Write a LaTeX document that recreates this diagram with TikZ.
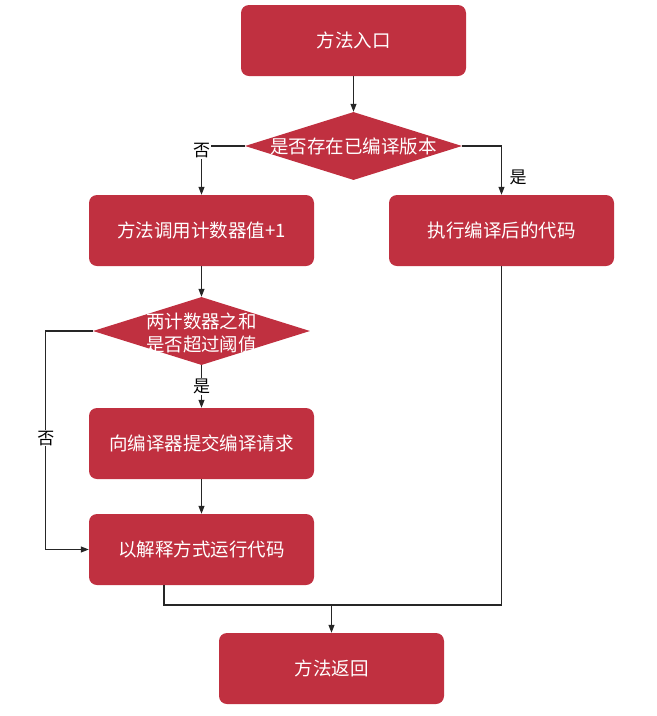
\documentclass[tikz,border=0pt]{standalone}
\usepackage{fontspec}
\setmainfont{Noto Sans CJK SC}
\usetikzlibrary{shapes.geometric,arrows.meta}
\definecolor{boxred}{RGB}{192,48,64}
\tikzset{
  box/.style={draw=none,fill=boxred,rounded corners=8pt,minimum width=225pt,minimum height=71pt,text=white,font=\fontsize{18.5}{22}\selectfont,inner sep=0pt},
  dec/.style={diamond,draw=none,fill=boxred,minimum width=217pt,minimum height=68pt,aspect=3.2,inner sep=0pt},
  dtext/.style={text=white,font=\fontsize{18.5}{23}\selectfont,align=center,inner sep=0pt},
  conn/.style={line width=1.1pt,draw=black!85},
  arr/.style={conn,-{Triangle[length=8pt,width=6pt]}},
  lab/.style={fill=white,inner sep=1pt,font=\fontsize{17}{20}\selectfont}
}
\begin{document}
\begin{tikzpicture}[x=1pt,y=-1pt]
\useasboundingbox (0,0) rectangle (657,716);
\node[box] (entry) at (353.5,40.5) {方法入口};
\node[dec] (d1) at (353.5,146) {};
\node[dtext] (d1t) at (353.5,146) {是否存在已编译版本};
\node[box] (cnt) at (201.5,230.5) {方法调用计数器值+1};
\node[box] (exec) at (501.5,230.5) {执行编译后的代码};
\node[dec] (d2) at (201.5,331) {};
\node[dtext] (d2t) at (201.5,333) {两计数器之和\\是否超过阈值};
\node[box] (sub) at (201.5,443.5) {向编译器提交编译请求};
\node[box] (interp) at (201.5,549.5) {以解释方式运行代码};
\node[box] (ret) at (331.5,668.5) {方法返回};
\coordinate (join) at (331.5,605);
\coordinate (jl) at (164,605);
\coordinate (jr) at (501.5,605);

\draw[arr] (entry.south) -- (d1.north);
\draw[arr] (d1.west) -| node[lab,pos=0.55] (no1) {否} (cnt.north);
\draw[arr] (d1.east) -| (exec.north);
\node[font=\fontsize{17}{20}\selectfont,inner sep=0pt] (yes1) at (518,177) {是};
\draw[arr] (cnt.south) -- (d2.north);
\draw[arr] (d2.south) -- node[lab] (yes2) {是} (sub.north);
\draw[arr] (sub.south) -- (interp.north);
\draw[arr] (d2.west) -- ++(-47,0) |- node[lab,pos=0.245] (no2) {否} (interp.west);
\draw[conn] (interp.south -| jl) -- (jl) -- (jr) -- (exec.south);
\draw[arr] (join) -- (ret.north);
\end{tikzpicture}
\end{document}
